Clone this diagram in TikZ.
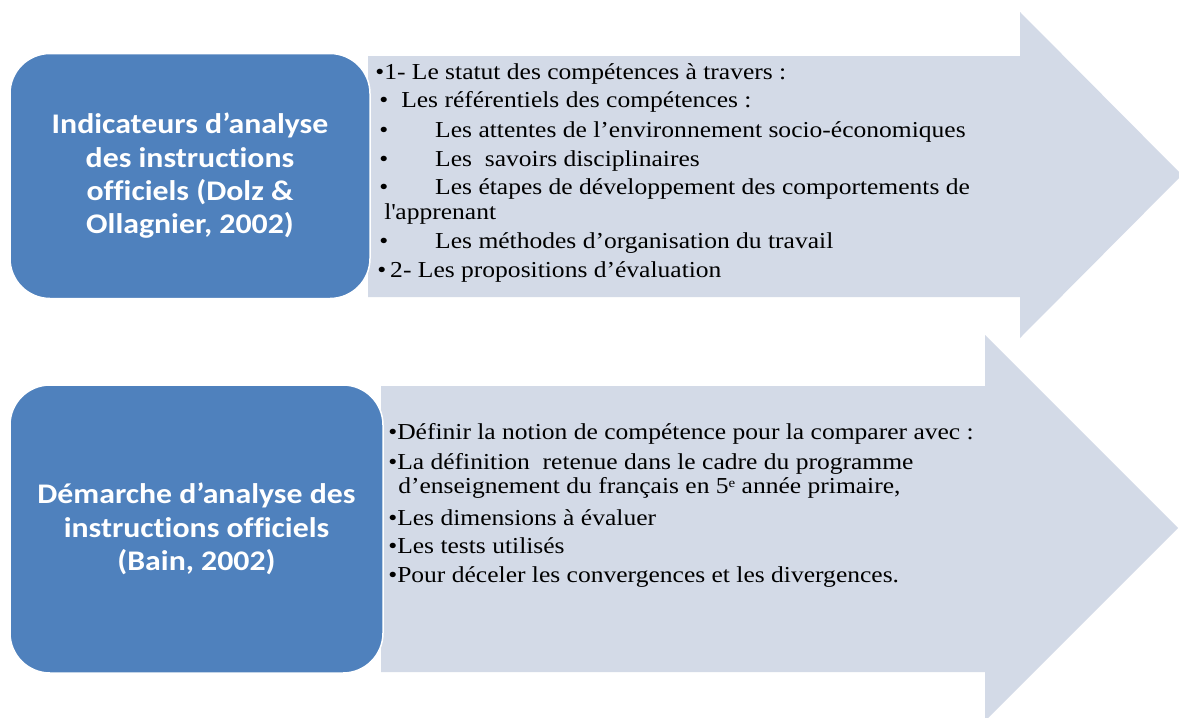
\documentclass[tikz,border=0pt]{standalone}
\usepackage{fontspec}
\setmainfont{Liberation Serif}[FakeStretch=1.12]
\newfontfamily\boxfont{Carlito}[FakeStretch=1.12,Ligatures=NoCommon]
\newlength\pxu
\setlength\pxu{0.75pt}
\newcommand\bul[1]{\makebox[#1\pxu][l]{•}}
\newcommand\supe{\raisebox{0.55ex}{\fontsize{10pt}{10pt}\selectfont e}}
\definecolor{boxblue}{HTML}{4F81BD}
\definecolor{arrowfill}{HTML}{D3DAE7}
\tikzset{
  bigarrow/.style={fill=arrowfill},
  titlebox/.style={fill=boxblue, draw=white, line width=1.5\pxu, rounded corners=40\pxu,
    text=white, align=center, inner sep=0pt,
    font=\boxfont\bfseries\fontsize{21.3pt}{25pt}\selectfont},
  txt/.style={anchor=base west, inner sep=0pt, text=black,
    font=\fontsize{17.1pt}{21pt}\selectfont}
}
\begin{document}
\begin{tikzpicture}[x=0.75pt,y=-0.75pt]
\useasboundingbox[fill=white] (0,0) rectangle (1179,718);
% arrows
\fill[bigarrow] (368,56) -- (1020,56) -- (1020,12) -- (1182,175) -- (1020,338) -- (1020,297) -- (368,297) -- cycle;
\fill[bigarrow] (381,386) -- (985,386) -- (985,335) -- (1178,528) -- (985,721) -- (985,672) -- (381,672) -- cycle;
% boxes
\node[titlebox, minimum width=360\pxu, minimum height=245\pxu] (box1) at (190,176)
  {Indicateurs d’analyse\\des instructions\\officiels (Dolz \&\\Ollagnier, 2002)};
\node[titlebox, minimum width=373\pxu, minimum height=288\pxu] (box2) at (196.5,529)
  {Démarche d’analyse des\\instructions officiels\\(Bain, 2002)};
% top text
\node[txt] (a1) at (375,79) {\bul{9}1- Le statut des compétences à travers :};
\node[txt] (a2) at (379,107) {\bul{22}Les référentiels des compétences :};
\node[txt] (a3) at (379,137) {\bul{56}Les attentes de l’environnement socio-économiques};
\node[txt] (a4) at (379,166) {\bul{56}Les~ savoirs disciplinaires};
\node[txt] (a5) at (379,194) {\bul{56}Les étapes de développement des comportements de};
\node[txt] (a6) at (384,219) {l\textquotesingle apprenant};
\node[txt] (a7) at (379,248) {\bul{56}Les méthodes d’organisation du travail};
\node[txt] (a8) at (377,277) {\bul{13}2- Les propositions d’évaluation};
% bottom text
\node[txt] (b1) at (388,439) {\bul{9}Définir la notion de compétence pour la comparer avec :};
\node[txt] (b2) at (388,469) {\bul{9}La définition~ retenue dans le cadre du programme};
\node[txt] (b3) at (398,493) {d’enseignement du français en 5\supe{} année primaire,};
\node[txt] (b4) at (388,525) {\bul{9}Les dimensions à évaluer};
\node[txt] (b5) at (388,553) {\bul{9}Les tests utilisés};
\node[txt] (b6) at (388,582) {\bul{9}Pour déceler les convergences et les divergences.};
\end{tikzpicture}
\end{document}
